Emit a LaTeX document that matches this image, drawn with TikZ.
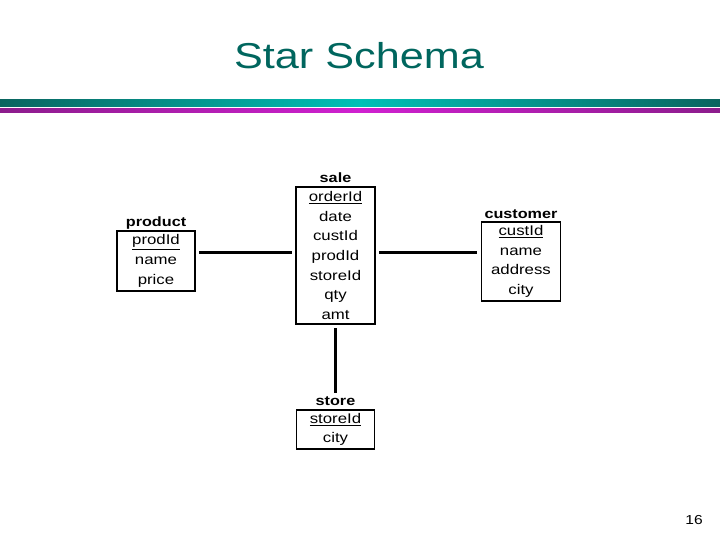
\documentclass[tikz,border=0pt]{standalone}
\usepackage{fontspec}
\setmainfont{Liberation Sans}[FakeStretch=1.2]
\usetikzlibrary{positioning}

\definecolor{titleteal}{RGB}{0,102,94}
\definecolor{bardark}{RGB}{10,100,95}
\definecolor{barlight}{RGB}{0,192,182}
\definecolor{magdark}{RGB}{140,28,140}
\definecolor{maglight}{RGB}{208,32,208}

\begin{document}
\begin{tikzpicture}[
    x = 1pt, y = -1pt,
    tbl/.style = {draw, line width = 1.2pt, rectangle, align = center,
      inner sep = 0pt, font = \fontsize{14}{19.7}\selectfont},
    head/.style = {inner sep = 0pt, text height = 10pt, text depth = 3pt,
      font = \bfseries\fontsize{13.5}{16}\selectfont},
    link/.style = {line width = 3pt, shorten < = 3.5pt, shorten > = 3.5pt}
  ]
  \useasboundingbox (0,0) rectangle (720,540);

  % title and the two bars under it
  \node[anchor = base, text = titleteal, inner sep = 0pt,
    font = \fontsize{36}{40}\selectfont] (title) at (359,69) {Star Schema};
  \shade[left color = bardark, right color = bardark, middle color = barlight]
    (0,100) rectangle (720,107);
  \shade[left color = magdark, right color = magdark, middle color = maglight]
    (0,109) rectangle (720,113);

  % tables
  \node[tbl, minimum width = 78, minimum height = 60] (product) at (156,261)
    {\underline{prodId}\\name\\price};
  \node[tbl, minimum width = 79, minimum height = 137] (sale) at (335.5,255.5)
    {\underline{orderId}\\date\\custId\\prodId\\storeId\\qty\\amt};
  \node[tbl, minimum width = 79, minimum height = 79] (customer) at (521,261.5)
    {\underline{custId}\\name\\address\\city};
  \node[tbl, minimum width = 78, minimum height = 39] (store) at (335.5,429.5)
    {\underline{storeId}\\city};

  \node[head, above = 1pt of product] (productLbl) {product};
  \node[head, above = 1pt of sale] (saleLbl) {sale};
  \node[head, above = 0pt of customer] (customerLbl) {customer};
  \node[head, above = 1pt of store] (storeLbl) {store};

  % links
  \draw[link] ([yshift = 9pt]product.east) -- ([yshift = 9pt]product.east -| sale.west);
  \draw[link] ([yshift = 3.5pt]sale.east) -- ([yshift = 3.5pt]sale.east -| customer.west);
  \draw[link, shorten > = 2pt] (sale.south) -- (storeLbl.north);

  \node[anchor = base, inner sep = 0pt, font = \fontsize{13}{15}\selectfont]
    (page) at (694,524) {16};
\end{tikzpicture}
\end{document}
